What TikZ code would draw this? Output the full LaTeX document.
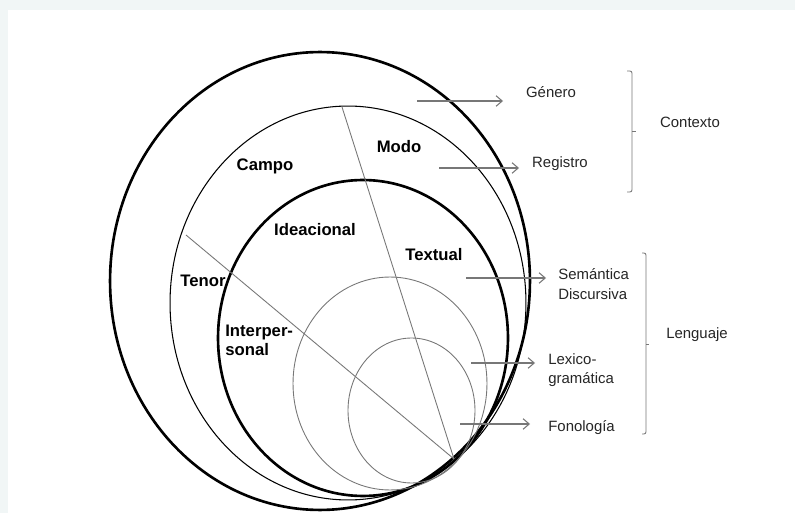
\documentclass[tikz,border=0pt]{standalone}
\usepackage{fontspec}
\setmainfont{Liberation Sans}
\usetikzlibrary{arrows.meta, positioning, calc}
\definecolor{framebg}{HTML}{F1F6F6}
\definecolor{linegray}{HTML}{777777}
\tikzstyle{ring}     = [line width=1.5pt, black]
\tikzstyle{thinring} = [line width=0.6pt, black]
\tikzstyle{layer}    = [line width=0.5pt, linegray]
\tikzstyle{cut}      = [line width=0.5pt, linegray]
\tikzstyle{link}     = [line width=0.6pt, linegray, -{Straight Barb[length=3.5pt, width=6pt]}]
\tikzstyle{brace}    = [line width=0.5pt, linegray, rounded corners=1.2pt]
\tikzstyle{region}   = [inner sep=0pt, font=\fontsize{9.5}{10.8}\selectfont\bfseries]
\tikzstyle{tag}      = [inner sep=0pt, text=black!85, font=\fontsize{8.5}{11}\selectfont]

\begin{document}
\begin{tikzpicture}[x=0.02cm, y=-0.02cm]

	% Frame
	\fill[framebg] (0,0) rectangle (795,513);
	\fill[white] (8,10) rectangle (795,513);
	\useasboundingbox (0,0) rectangle (795,513);

	% Rings
	\draw[ring] (320,281) ellipse [x radius=4.2cm, y radius=4.58cm];
	\draw[thinring] (348,303) ellipse [x radius=3.56cm, y radius=3.94cm];
	\draw[ring] (363,338) ellipse [x radius=2.9cm, y radius=3.16cm];
	\draw[layer] (390,383.5) ellipse [x radius=1.94cm, y radius=2.13cm];
	\draw[layer] (411.5,410.5) ellipse [x radius=1.27cm, y radius=1.45cm];

	% Cuts
	\coordinate (hub) at (454,459);
	\coordinate (modo_cut) at (342,107);
	\coordinate (tenor_cut) at (186,235);
	\draw[cut] (modo_cut) -- (hub);
	\draw[cut] (tenor_cut) -- (hub);

	% Regions
	\node[region] (campo) at (265,166) {Campo};
	\node[region] (modo) at (399,147) {Modo};
	\node[region] (ideacional) at (315,230) {Ideacional};
	\node[region] (tenor) at (203,281) {Tenor};
	\node[region, align=left, anchor=west] (interpersonal) at (225,340) {Interper-\\sonal};
	\node[region] (textual) at (434,255) {Textual};

	% Labels
	\node[tag] (genero) at (551,92) {Género};
	\node[tag] (registro) at (560,164) {Registro};
	\node[tag, align=left, anchor=west] (semantica) at (558,284) {Semántica\\Discursiva};
	\node[tag, align=left, anchor=west] (lexico) at (548,370) {Lexico-\\gramática};
	\node[tag, anchor=west] (fonologia) at (548,428) {Fonología};
	\node[tag] (contexto) at (690,122) {Contexto};
	\node[tag] (lenguaje) at (697,335) {Lenguaje};

	% Arrows
	\coordinate (genero_tail) at (417,101);
	\coordinate (genero_head) at (503,101);
	\coordinate (registro_tail) at (439,168);
	\coordinate (registro_head) at (519,168);
	\coordinate (semantica_tail) at (466,278);
	\coordinate (semantica_head) at (546,278);
	\coordinate (lexico_tail) at (471,363);
	\coordinate (lexico_head) at (535,363);
	\coordinate (fonologia_tail) at (460,424);
	\coordinate (fonologia_head) at (530,424);
	\draw[link] (genero_tail) -- (genero_head);
	\draw[link] (registro_tail) -- (registro_head);
	\draw[link] (semantica_tail) -- (semantica_head);
	\draw[link] (lexico_tail) -- (lexico_head);
	\draw[link] (fonologia_tail) -- (fonologia_head);

	% Brackets
	\draw[brace] (627,71) -- (632,71) -- (632,192) -- (627,192);
	\draw[brace] (632,131) -- (636,131);
	\draw[brace] (642,253) -- (646,253) -- (646,434) -- (642,434);
	\draw[brace] (646,344) -- (649,344);

\end{tikzpicture}
\end{document}
